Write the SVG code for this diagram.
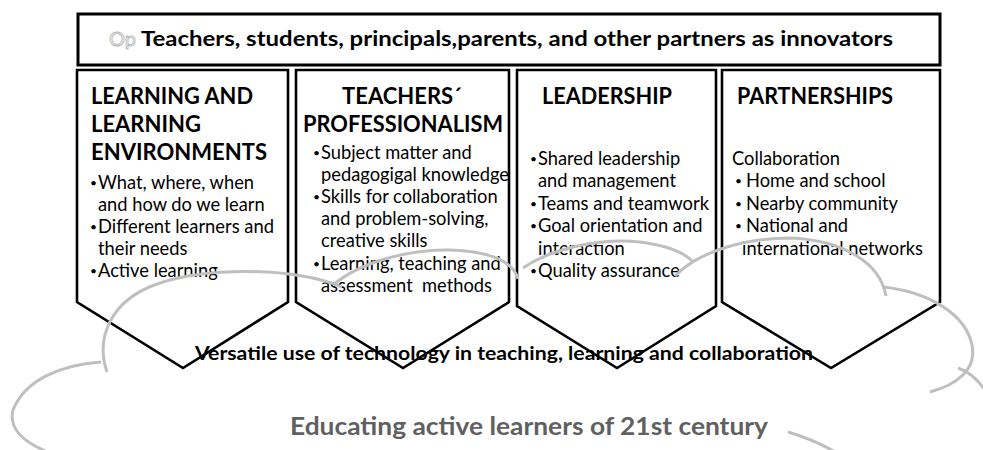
<svg xmlns="http://www.w3.org/2000/svg" width="983" height="450" viewBox="0 0 983 450">
<style>
  .box{fill:none;stroke:#000;stroke-width:2.6;stroke-linejoin:miter}
  .hdr{font-family:Lato,"Open Sans",sans-serif;font-weight:bold;font-size:20px;fill:#000}
  .ttl{font-family:Lato,"Open Sans",sans-serif;font-weight:bold;font-size:22px;fill:#000}
  .bul{font-family:Lato,"Open Sans",sans-serif;font-size:18.3px;fill:#000}
  .dot{font-family:Lato,"Open Sans",sans-serif;font-size:12px;fill:#000}
  .cloud{fill:none;stroke:#bfbfbf;stroke-width:3;stroke-linecap:butt}
  .ver{font-family:Lato,"Open Sans",sans-serif;font-weight:bold;font-size:19px;fill:#000}
  .edu{font-family:Lato,"Open Sans",sans-serif;font-weight:bold;font-size:25px;fill:#606060}
</style>
<rect width="983" height="450" fill="#fff"/>

<g id="header">
  <rect x="78" y="14" width="862" height="51" fill="#fff" stroke="#000" stroke-width="3"/>
  <text x="109" y="46" class="hdr" style="fill:#fff;stroke:#b4b4b4;stroke-width:0.9;font-weight:normal">Op</text>
  <text x="141" y="46" class="hdr" textLength="752" lengthAdjust="spacingAndGlyphs">Teachers, students, principals,parents, and other partners as innovators</text>
</g>

<g id="learning">
  <path class="box" d="M77,70 H288 V302 L183,368 L77,302 Z"/>
  <text class="ttl" x="91" y="104" textLength="162" lengthAdjust="spacingAndGlyphs">LEARNING AND</text>
  <text class="ttl" x="91" y="132">LEARNING</text>
  <text class="ttl" x="91" y="160" textLength="176" lengthAdjust="spacingAndGlyphs">ENVIRONMENTS</text>
  <text class="dot" x="90" y="187">•</text>
  <text class="bul" x="98" y="189">What, where, when</text>
  <text class="bul" x="98" y="211">and how do we learn</text>
  <text class="dot" x="90" y="231">•</text>
  <text class="bul" x="98" y="233" textLength="176" lengthAdjust="spacingAndGlyphs">Different learners and</text>
  <text class="bul" x="98" y="255">their needs</text>
  <text class="dot" x="90" y="275">•</text>
  <text class="bul" x="98" y="277">Active learning</text>
</g>

<g id="professionalism">
  <path class="box" d="M296,70 H509 V302 L403,368 L296,302 Z"/>
  <text class="ttl" x="402" y="104" text-anchor="middle">TEACHERS´</text>
  <text class="ttl" x="303" y="132" textLength="200" lengthAdjust="spacingAndGlyphs">PROFESSIONALISM</text>
  <text class="dot" x="313" y="157">•</text>
  <text class="bul" x="321" y="159">Subject matter and</text>
  <text class="bul" x="321" y="181" textLength="188" lengthAdjust="spacingAndGlyphs">pedagogigal knowledge</text>
  <text class="dot" x="313" y="201">•</text>
  <text class="bul" x="321" y="203">Skills for collaboration</text>
  <text class="bul" x="321" y="225">and problem-solving,</text>
  <text class="bul" x="321" y="247">creative skills</text>
  <text class="dot" x="313" y="268">•</text>
  <text class="bul" x="321" y="270">Learning, teaching and</text>
  <text class="bul" x="321" y="292" xml:space="preserve">assessment  methods</text>
</g>

<g id="leadership">
  <path class="box" d="M517,70 H716 V306 L617,368 L517,306 Z"/>
  <text class="ttl" x="542" y="104" textLength="130" lengthAdjust="spacingAndGlyphs">LEADERSHIP</text>
  <text class="dot" x="530" y="163">•</text>
  <text class="bul" x="538" y="165">Shared leadership</text>
  <text class="bul" x="538" y="187">and management</text>
  <text class="dot" x="530" y="208">•</text>
  <text class="bul" x="538" y="210" textLength="171" lengthAdjust="spacingAndGlyphs">Teams and teamwork</text>
  <text class="dot" x="530" y="230">•</text>
  <text class="bul" x="538" y="232">Goal orientation and</text>
  <text class="bul" x="538" y="255">interaction</text>
  <text class="dot" x="530" y="275">•</text>
  <text class="bul" x="538" y="277">Quality assurance</text>
</g>

<g id="partnerships">
  <path class="box" d="M722,70 H940 V302 L831,368 L722,302 Z"/>
  <text class="ttl" x="737" y="104" textLength="156" lengthAdjust="spacingAndGlyphs">PARTNERSHIPS</text>
  <text class="bul" x="732" y="165">Collaboration</text>
  <text class="dot" x="735" y="185">•</text>
  <text class="bul" x="746" y="187">Home and school</text>
  <text class="dot" x="735" y="208">•</text>
  <text class="bul" x="746" y="210" textLength="152" lengthAdjust="spacingAndGlyphs">Nearby community</text>
  <text class="dot" x="735" y="230">•</text>
  <text class="bul" x="746" y="232">National and</text>
  <text class="bul" x="742" y="255" textLength="181" lengthAdjust="spacingAndGlyphs">international networks</text>
</g>

<g id="technology">
  <text class="ver" x="195" y="360" textLength="618" lengthAdjust="spacingAndGlyphs">Versatile use of technology in teaching, learning and collaboration</text>
</g>

<g id="cloud">
  <path class="cloud" d="M107,372 C96,340 108,300 160,283 C205,268 290,266 342,287"/>
  <path class="cloud" d="M333,285 C360,262 410,249 450,250 C490,251 514,262 518,279"/>
  <path class="cloud" d="M523,268 C552,248 600,238 640,242 C670,246 686,254 693,262"/>
  <path class="cloud" d="M675,276 C700,250 748,238 790,238 C842,240 880,262 886,296"/>
  <path class="cloud" d="M883,287 C930,292 966,315 972,345 C977,370 956,385 930,392"/>
  <path class="cloud" d="M958,368 C970,372 978,380 985,390"/>
  <path class="cloud" d="M788,432 C805,437 820,443 837,453"/>
  <path class="cloud" d="M101,362 C60,365 25,380 13,410 C8,430 25,443 50,453"/>
  <text class="edu" x="290" y="435" textLength="478" lengthAdjust="spacingAndGlyphs">Educating active learners of 21st century</text>
</g>
</svg>
